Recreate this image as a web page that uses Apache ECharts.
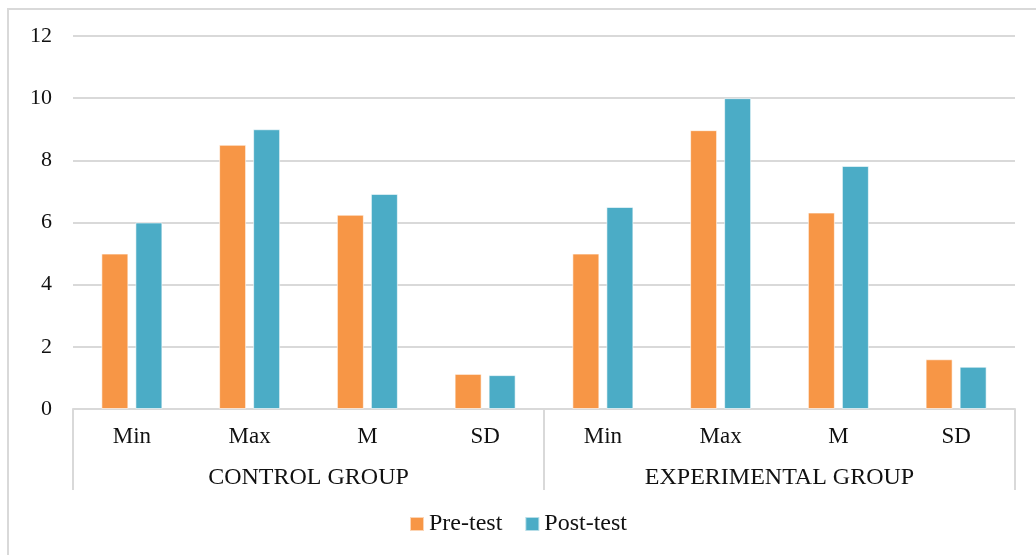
<!DOCTYPE html>
<html>
<head>
<meta charset="utf-8">
<script src="https://cdn.jsdelivr.net/npm/echarts@6/dist/echarts.min.js"></script>
<style>
html,body{margin:0;padding:0;background:#fff;}
#c{width:1036px;height:555px;}
</style>
</head>
<body>
<div id="c"></div>
<script>
const statLabels = ['Min','Max','M','SD','Min','Max','M','SD'];
const groupLabels = ['CONTROL GROUP','EXPERIMENTAL GROUP'];
const preTest = [5.0, 8.5, 6.25, 1.13, 5.0, 8.97, 6.32, 1.6];
const postTest = [6.0, 9.0, 6.92, 1.09, 6.5, 10.0, 7.82, 1.36];
const yTicks = {min: 0, max: 12, interval: 2};

const FONT = '"Liberation Serif","Times New Roman",serif';
const chart = echarts.init(document.getElementById('c'));
chart.setOption({
  animation: false,
  backgroundColor: '#fff',
  graphic: [{
    type: 'rect', silent: true, z: -1,
    shape: {x: 8, y: 9, width: 1050, height: 570},
    style: {fill: 'none', stroke: '#d9d9d9', lineWidth: 2}
  }],
  grid: {left: 73, right: 21, top: 36, bottom: 146, containLabel: false},
  legend: {
    bottom: 14, left: 'center',
    itemWidth: 14, itemHeight: 14, itemGap: 22,
    icon: 'rect',
    textStyle: {fontFamily: FONT, fontSize: 24, color: '#111'},
    data: ['Pre-test','Post-test']
  },
  xAxis: [{
    type: 'category', data: statLabels, gridIndex: 0, position: 'bottom',
    axisLine: {show: true, lineStyle: {color: '#d9d9d9', width: 2}},
    axisTick: {show: false},
    axisLabel: {fontFamily: FONT, fontSize: 23, color: '#111', margin: 16, interval: 0}
  }, {
    type: 'category', data: groupLabels, gridIndex: 0, position: 'bottom',
    axisLine: {show: false},
    axisTick: {show: true, length: 81, interval: 0, lineStyle: {color: '#d9d9d9', width: 2}},
    axisLabel: {fontFamily: FONT, fontSize: 24, color: '#111', margin: 57, interval: 0},
    splitLine: {show: false}
  }],
  yAxis: {
    type: 'value', min: yTicks.min, max: yTicks.max, interval: yTicks.interval,
    axisLine: {show: false}, axisTick: {show: false},
    axisLabel: {fontFamily: FONT, fontSize: 22, color: '#111', margin: 21},
    splitLine: {lineStyle: {color: '#d9d9d9', width: 2}}
  },
  series: [{
    name: 'Pre-test', type: 'bar', xAxisIndex: 0, data: preTest,
    barWidth: 27, barGap: '26%',
    itemStyle: {color: '#F79646', borderColor: 'rgba(255,255,255,0.6)', borderWidth: 1}
  }, {
    name: 'Post-test', type: 'bar', xAxisIndex: 0, data: postTest,
    barWidth: 27, barGap: '26%',
    itemStyle: {color: '#4BACC6', borderColor: 'rgba(255,255,255,0.6)', borderWidth: 1}
  }]
});
</script>
</body>
</html>
